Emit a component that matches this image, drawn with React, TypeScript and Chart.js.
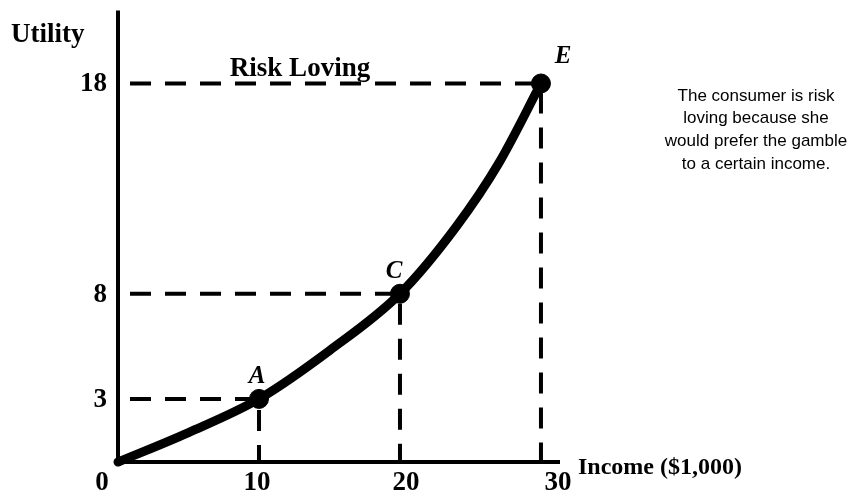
import React, { useEffect, useRef } from "react";
import { Chart, registerables } from "chart.js";

Chart.register(...registerables);

// Utility curve (income in $1,000, utility)
const curveIncome = [0, 5, 10, 15, 20, 24, 27, 30];
const curveUtility = [0, 1.4, 3, 5.3, 8, 11.2, 14.2, 18];

// Labelled points
const pointNames = ["A", "C", "E"];
const pointIncome = [10, 20, 30];
const pointUtility = [3, 8, 18];

// Tick labels
const xTicks = [10, 20, 30];
const yTicks = [3, 8, 18];

const title = "Risk Loving";
const xTitle = "Income ($1,000)";
const yTitle = "Utility";
const note = [
  "The consumer is risk",
  "loving because she",
  "would prefer the gamble",
  "to a certain income.",
];

const SERIF = '"Liberation Serif", "Times New Roman", serif';
const SANS = '"Liberation Sans", Arial, sans-serif';

const decorPlugin = {
  id: "decor",
  beforeDatasetsDraw(chart: any) {
    const { ctx, chartArea } = chart;
    ctx.save();
    ctx.strokeStyle = "#000";
    ctx.lineWidth = 4;
    ctx.lineCap = "butt";
    ctx.beginPath();
    ctx.moveTo(chartArea.left, chartArea.top);
    ctx.lineTo(chartArea.left, chartArea.bottom + 2);
    ctx.moveTo(chartArea.left - 2, chartArea.bottom);
    ctx.lineTo(chartArea.right, chartArea.bottom);
    ctx.stroke();
    ctx.restore();
  },
  afterDatasetsDraw(chart: any) {
    const { ctx, chartArea, scales } = chart;
    const x = scales.x;
    const y = scales.y;
    ctx.save();
    ctx.fillStyle = "#000";
    // tick labels
    ctx.font = `bold 27px ${SERIF}`;
    ctx.textBaseline = "middle";
    ctx.textAlign = "right";
    yTicks.forEach((t) => {
      ctx.fillText(String(t), chartArea.left - 11, y.getPixelForValue(t) + 1);
    });
    ctx.textAlign = "center";
    ctx.fillText("0", chartArea.left - 16, chartArea.bottom + 21);
    const xOff = [-2, 6, 17];
    xTicks.forEach((t, i) => {
      ctx.fillText(String(t), x.getPixelForValue(t) + xOff[i], chartArea.bottom + 21);
    });
    // axis titles
    ctx.textAlign = "left";
    ctx.textBaseline = "alphabetic";
    ctx.font = `bold 27px ${SERIF}`;
    ctx.fillText(yTitle, 11, 42);
    ctx.font = `bold 24px ${SERIF}`;
    ctx.fillText(xTitle, chartArea.right + 18, chartArea.bottom + 12);
    // chart title
    ctx.textAlign = "center";
    ctx.font = `bold 27px ${SERIF}`;
    ctx.fillText(title, 300, 76);
    // point labels
    ctx.textBaseline = "middle";
    ctx.font = `italic bold 25px ${SERIF}`;
    const offs = [
      [-2, -22],
      [-6, -22],
      [22, -27],
    ];
    pointNames.forEach((n, i) => {
      ctx.fillText(
        n,
        x.getPixelForValue(pointIncome[i]) + offs[i][0],
        y.getPixelForValue(pointUtility[i]) + offs[i][1]
      );
    });
    // note
    ctx.font = `17px ${SANS}`;
    note.forEach((line, i) => {
      ctx.fillText(line, 756, 96 + i * 22.7);
    });
    ctx.restore();
  },
};

export default function App() {
  const ref = useRef<HTMLCanvasElement | null>(null);
  useEffect(() => {
    if (!ref.current) return;
    const guides = pointIncome.map((px, i) => ({
      type: "line" as const,
      data: [
        { x: 0, y: pointUtility[i] },
        { x: px, y: pointUtility[i] },
        { x: px, y: 0 },
      ],
      borderColor: "#000",
      borderWidth: 4,
      borderDash: [21, 14],
      borderDashOffset: 23,
      pointRadius: 0,
      tension: 0,
      fill: false,
      order: 3,
    }));
    const chart = new Chart(ref.current, {
      type: "line",
      data: {
        datasets: [
          {
            type: "scatter" as const,
            data: pointIncome.map((v, i) => ({ x: v, y: pointUtility[i] })),
            pointRadius: 9.5,
            pointBackgroundColor: "#000",
            pointBorderColor: "#000",
            showLine: false,
            order: 1,
          } as any,
          {
            data: curveIncome.map((v, i) => ({ x: v, y: curveUtility[i] })),
            borderColor: "#000",
            borderWidth: 9,
            borderCapStyle: "round",
            borderJoinStyle: "round",
            pointRadius: 0,
            cubicInterpolationMode: "monotone",
            fill: false,
            order: 2,
          } as any,
          ...guides,
        ],
      },
      options: {
        animation: false,
        responsive: false,
        maintainAspectRatio: false,
        clip: false as any,
        layout: { padding: { left: 118, right: 290, top: 9, bottom: 32 } },
        plugins: { legend: { display: false }, tooltip: { enabled: false } },
        scales: {
          x: { type: "linear", min: 0, max: 31.35, display: false },
          y: { type: "linear", min: 0, max: 21.47, display: false },
        },
      },
      plugins: [decorPlugin],
    });
    return () => chart.destroy();
  }, []);
  return (
    <div style={{ position: "fixed", left: 0, top: 0, width: 850, height: 494, background: "#fff" }}>
      <canvas ref={ref} width={850} height={494} style={{ display: "block" }} />
    </div>
  );
}
